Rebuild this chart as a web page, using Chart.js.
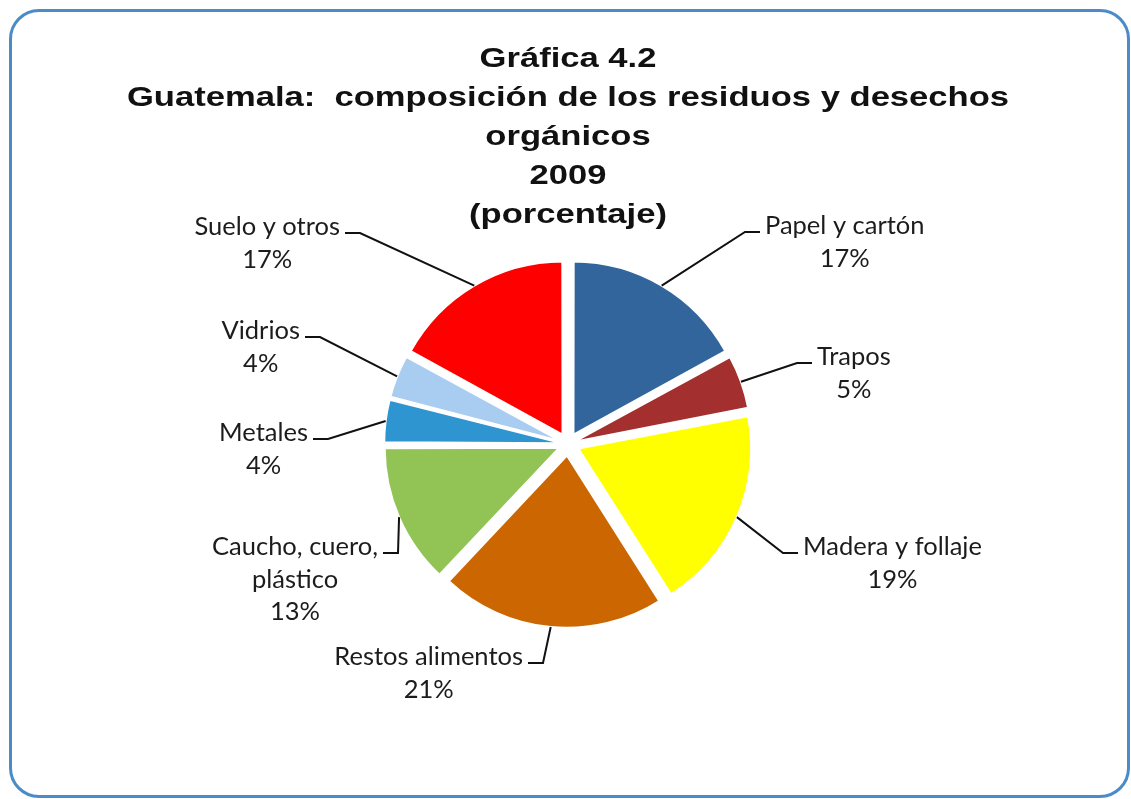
<!DOCTYPE html>
<html>
<head>
<meta charset="utf-8">
<title>Gráfica 4.2</title>
<script src="https://cdn.jsdelivr.net/npm/chart.js@4.4.1/dist/chart.umd.min.js"></script>
<style>
  html, body { margin: 0; padding: 0; background: #fff; }
  #frame {
    position: absolute; left: 9px; top: 9px; width: 1121px; height: 789px;
    border: 3px solid #4a8bc8; border-radius: 30px; box-sizing: border-box;
  }
  #chartBox { position: absolute; left: 0; top: 0; width: 1131px; height: 799px; }
</style>
</head>
<body>
<div id="frame"></div>
<div id="chartBox"><canvas id="myChart" width="1131" height="799"></canvas></div>
<script>
const categories = [
  'Papel y cartón',
  'Trapos',
  'Madera y follaje',
  'Restos alimentos',
  ['Caucho, cuero,', 'plástico'],
  'Metales',
  'Vidrios',
  'Suelo y otros'
];
const percentages = [17, 5, 19, 21, 13, 4, 4, 17];
const sliceColors = ['#31659c', '#a3302f', '#ffff00', '#cc6600', '#92c355', '#2f95d0', '#a9cdf0', '#ff0000'];
const titleLines = [
  'Gráfica 4.2',
  'Guatemala:  composición de los residuos y desechos',
  'orgánicos',
  '2009',
  '(porcentaje)'
];

// how far each slice is pulled out (chart.js uses a quarter of this, and
// narrow slices also grow a little, so the thin ones get less)
const sliceOffsets = [43, 28, 45, 46, 38, 27, 27, 43];

// where each leader line bends, relative to the pie centre; side = which way the text goes
const labelAnchors = [
  { dx: 177, dy: -212, side: 1 },
  { dx: 229, dy: -81, side: 1 },
  { dx: 215, dy: 109, side: 1 },
  { dx: -25, dy: 219, side: -1 },
  { dx: -170, dy: 109, side: -1 },
  { dx: -240, dy: -5, side: -1 },
  { dx: -248, dy: -107, side: -1 },
  { dx: -208, dy: -211, side: -1 }
];

// the original title is set wide; stretch it sideways, undo before the slices
const titleStretch = {
  id: 'titleStretch',
  beforeDraw(chart) {
    const ctx = chart.ctx;
    const cx = (chart.chartArea.left + chart.chartArea.right) / 2;
    ctx.save();
    ctx.translate(cx, 0);
    ctx.scale(1.235, 1);
    ctx.translate(-cx, 0);
  },
  beforeDatasetsDraw(chart) { chart.ctx.restore(); }
};

const outsideLabels = {
  id: 'outsideLabels',
  afterDatasetsDraw(chart, args, opts) {
    const ctx = chart.ctx;
    const meta = chart.getDatasetMeta(0);
    const values = chart.data.datasets[0].data;
    ctx.save();
    ctx.font = opts.font;
    ctx.fillStyle = opts.color;
    ctx.strokeStyle = opts.lineColor;
    ctx.lineWidth = opts.lineWidth;
    ctx.textAlign = 'center';
    ctx.textBaseline = 'alphabetic';
    meta.data.forEach((arc, i) => {
      const p = arc.getProps(['x', 'y', 'startAngle', 'endAngle', 'outerRadius', 'circumference'], true);
      const mid = (p.startAngle + p.endAngle) / 2;
      // same shift the arc element uses when it draws an offset slice
      const off = (arc.options.offset || 0) / 4;
      const fix = 1 - Math.sin(Math.min(Math.PI, p.circumference));
      const r = p.outerRadius + off + off * fix;
      const sx = p.x + Math.cos(mid) * r;
      const sy = p.y + Math.sin(mid) * r;
      const a = opts.anchors[i];
      const ex = p.x + a.dx;
      const ey = p.y + a.dy;
      const hx = ex + a.side * opts.tail;
      ctx.beginPath();
      ctx.moveTo(sx, sy);
      ctx.lineTo(ex, ey);
      ctx.lineTo(hx, ey);
      ctx.stroke();

      const label = chart.data.labels[i];
      const lines = (Array.isArray(label) ? label : [label]).concat(values[i] + '%');
      const w = Math.max(...lines.map(t => ctx.measureText(t).width));
      const cx = a.side > 0 ? hx + opts.gap + w / 2 : hx - opts.gap - w / 2;
      lines.forEach((t, k) => ctx.fillText(t, cx, ey + opts.baseShift + k * opts.lineHeight));
    });
    ctx.restore();
  }
};

new Chart(document.getElementById('myChart'), {
  type: 'pie',
  data: {
    labels: categories,
    datasets: [{
      data: percentages,
      backgroundColor: sliceColors,
      borderColor: '#ffffff',
      borderWidth: 2,
      offset: sliceOffsets
    }]
  },
  options: {
    responsive: false,
    animation: false,
    radius: 172,
    layout: { padding: { left: 5, right: 0, top: 0, bottom: 146 } },
    plugins: {
      legend: { display: false },
      tooltip: { enabled: false },
      title: {
        display: true,
        text: titleLines,
        color: '#111',
        font: { family: '"Liberation Sans", Arial, sans-serif', size: 28, weight: 'bold', lineHeight: '39px' },
        padding: { top: 40, bottom: 0 }
      },
      outsideLabels: {
        anchors: labelAnchors,
        font: '25.5px Lato, "Open Sans", sans-serif',
        color: '#1c1c1c',
        lineColor: '#111',
        lineWidth: 2,
        tail: 15,
        gap: 5,
        baseShift: 2,
        lineHeight: 32.5
      }
    }
  },
  plugins: [titleStretch, outsideLabels]
});
</script>
</body>
</html>
